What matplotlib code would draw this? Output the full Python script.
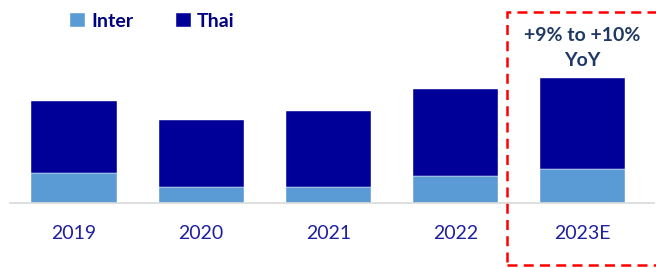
import matplotlib.pyplot as plt
from matplotlib.patches import Rectangle

years = ["2019", "2020", "2021", "2022", "2023E"]
inter = [30, 16, 16, 27, 34]
thai = [72, 67, 76, 87, 91]
growth_note = "+9% to +10%\nYoY"

INTER_COLOR = "#5B9BD5"
THAI_COLOR = "#000099"
LABEL_COLOR = "#1F1FA0"
NOTE_COLOR = "#1F3864"

plt.rcParams["font.family"] = ["Lato", "DejaVu Sans"]

W, H = 656, 268
fig = plt.figure(figsize=(W / 100, H / 100), dpi=100)
# axes placed in pixel terms: x 10..654, y baseline at 203
ax = fig.add_axes([10 / W, (H - 203) / H, 644 / W, 190 / H])

x = range(len(years))
ax.bar(x, inter, width=0.67, color=INTER_COLOR, label="Inter", edgecolor="white", linewidth=0.3)
ax.bar(x, thai, width=0.67, bottom=inter, color=THAI_COLOR, label="Thai", edgecolor="white", linewidth=0.3)

ax.set_xlim(-0.504, 4.563)
ax.set_ylim(0, 190)
ax.set_xticks(list(x))
ax.set_xticklabels(years, fontsize=14, color=LABEL_COLOR)
ax.tick_params(axis="x", length=0, pad=16)
ax.set_yticks([])
for s in ["top", "right", "left"]:
    ax.spines[s].set_visible(False)
ax.spines["bottom"].set_color("#D9D9D9")
ax.spines["bottom"].set_linewidth(1.2)

last = len(years) - 1
ax.text(last, inter[last] + thai[last] + 9, growth_note, ha="center", va="bottom",
        fontsize=14, fontweight="bold", color=NOTE_COLOR, linespacing=1.6)

# dashed highlight box around the forecast year
box = Rectangle((507 / W, (H - 265) / H), 160 / W, 253 / H, transform=fig.transFigure,
                fill=False, edgecolor="#FF0000", linewidth=1.8, linestyle=(0, (4, 2.5)),
                clip_on=False)
fig.patches.append(box)

fig.legend(loc="upper left", bbox_to_anchor=(52 / W, 1 + 5 / H), ncol=2, frameon=False,
           handlelength=0.8, handleheight=0.8, handletextpad=0.3, columnspacing=2.2,
           prop={"weight": "bold", "size": 14}, labelcolor="#000080")

fig.savefig("out.png", dpi=100)
